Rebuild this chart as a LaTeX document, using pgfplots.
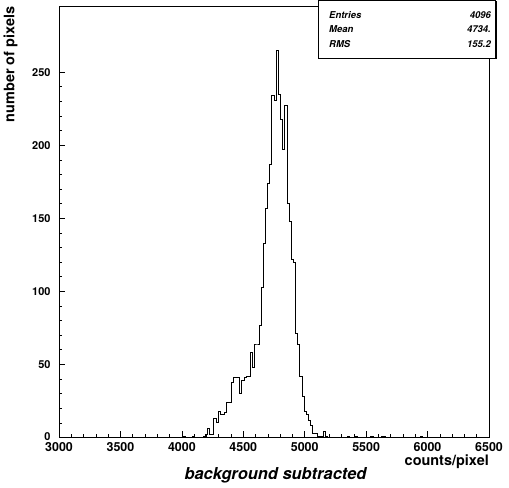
\documentclass[border=0pt]{standalone}
\usepackage{fontspec}
\setmainfont{TeX Gyre Heros}
\usepackage{pgfplots}
\pgfplotsset{compat=1.18}
\begin{document}
\begin{tikzpicture}
\useasboundingbox (-59bp,-50.5bp) rectangle (450bp,437.5bp);
\begin{axis}[
  at={(0,0)}, anchor=south west,
  scale only axis, width=430bp, height=431bp,
  xmin=3000, xmax=6500, ymin=0, ymax=295,
  xtick={3000,3500,...,6500}, minor x tick num=4,
  ytick={0,50,...,250}, minor y tick num=4,
  tick pos=left, tick align=inside,
  major tick length=6bp, minor tick length=3bp,
  axis line style={line width=0.8bp},
  every tick/.style={black, line width=0.7bp},
  /pgf/number format/assume math mode=true,
  /pgf/number format/1000 sep={},
  xticklabel style={font=\fontsize{12.5}{12.5}\selectfont\bfseries, yshift=-1bp},
  yticklabel style={font=\fontsize{11}{11}\selectfont\bfseries, xshift=-5bp},
  yticklabel={\ifdim\tick pt=0pt\raisebox{2.5bp}{0}\else\pgfmathprintnumber{\tick}\fi},
  clip=false,
]
\addplot[const plot mark left, black, line width=0.8bp] coordinates {
(3980,0) (4015,1) (4032.5,0) (4085,1) (4102.5,0) (4172.5,1) (4190,2) (4207.5,6)
(4225,2) (4242.5,2) (4260,13) (4277.5,10) (4295,18) (4312.5,16) (4330,16)
(4347.5,17) (4365,24) (4382.5,24) (4400,38) (4417.5,41) (4435,41) (4452.5,41)
(4470,30) (4487.5,39) (4505,41) (4522.5,42) (4540,42) (4557.5,58) (4575,48)
(4592.5,64) (4610,64) (4627.5,77) (4645,103) (4662.5,133) (4680,157) (4697.5,174)
(4715,187) (4732.5,234) (4750,231) (4767.5,265) (4785,235) (4802.5,218) (4820,197)
(4837.5,227) (4855,160) (4872.5,148) (4890,122) (4907.5,120) (4925,71) (4942.5,64)
(4960,42) (4977.5,28) (4995,18) (5012.5,16) (5030,12) (5047.5,8) (5065,3)
(5082.5,3) (5100,1) (5117.5,1) (5135,1) (5152.5,4) (5170,1) (5187.5,0)
(5345,1) (5362.5,0) (5415,1) (5432.5,0) (5537.5,1) (5555,0) (5625,1) (5642.5,1)
(5660,0) (5940,1) (5957.5,0) (6000,0)
};
\end{axis}
% stats box
\fill[black] (261bp,378bp) rectangle (437.5bp,379.5bp);
\fill[black] (436bp,378bp) rectangle (437.5bp,436bp);
\draw[line width=0.8bp, fill=white] (259bp,379.5bp) rectangle (436bp,437.5bp);
\begin{scope}[every node/.style={inner sep=0pt, font=\fontsize{9.5}{9.5}\selectfont\bfseries\itshape}]
\node[anchor=base west] at (270bp,419bp) {Entries};
\node[anchor=base east] at (432bp,419bp) {4096};
\node[anchor=base west] at (270bp,404.5bp) {Mean};
\node[anchor=base east] at (432bp,404.5bp) {4734.};
\node[anchor=base west] at (270bp,390bp) {RMS};
\node[anchor=base east] at (432bp,390bp) {155.2};
\end{scope}
\node[anchor=base east, inner sep=0pt, font=\fontsize{14.5}{14.5}\selectfont\bfseries] at (430bp,-28bp) {counts/pixel};
\node[anchor=base, inner sep=0pt, font=\fontsize{16.5}{16.5}\selectfont\bfseries\itshape] at (216.5bp,-42bp) {background subtracted};
\node[rotate=90, anchor=base east, inner sep=0pt, font=\fontsize{14.5}{14.5}\selectfont\bfseries] at (-44.5bp,431bp) {number of pixels};
\end{tikzpicture}
\end{document}
